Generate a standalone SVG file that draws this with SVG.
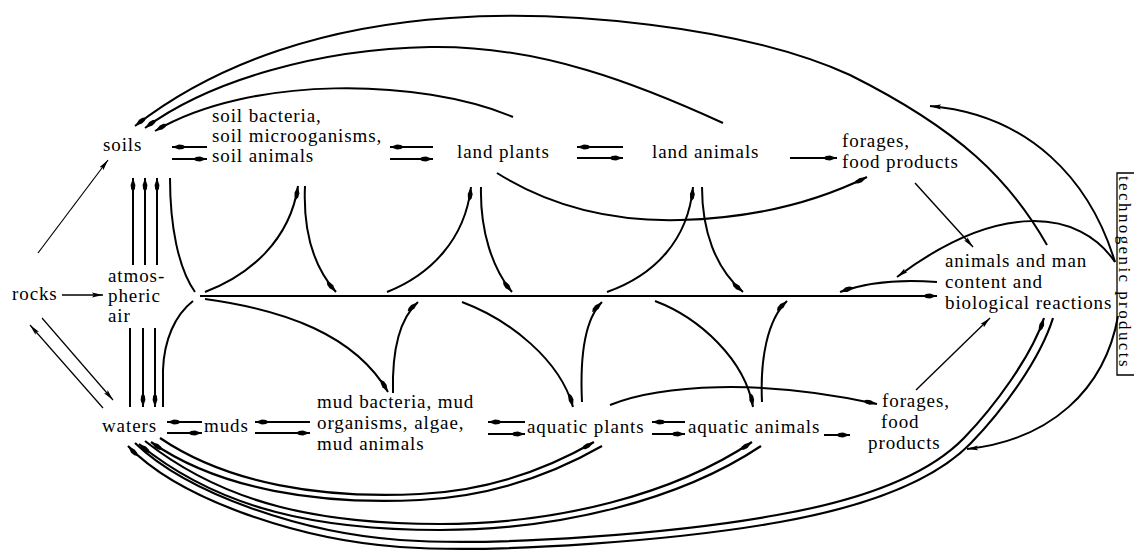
<svg xmlns="http://www.w3.org/2000/svg" width="1134" height="557" viewBox="0 0 1134 557">
<defs>
<style>
text{font-family:'Liberation Serif','Times New Roman',serif;font-size:19px;letter-spacing:0.9px;fill:#000}
.c{fill:none;stroke:#000;stroke-width:2}
.d{fill:none;stroke:#000;stroke-width:2.2}
.t{fill:none;stroke:#000;stroke-width:1.2}
</style>
<marker id="arr" viewBox="0 0 14 6" refX="14" refY="3" markerWidth="14" markerHeight="6" orient="auto" markerUnits="userSpaceOnUse">
<path d="M0 3 L3 1.1 L7 0.6 L14 3 L7 5.4 L3 4.9 Z" fill="#000" stroke="none"/>
</marker>
<marker id="sm" viewBox="0 0 11 6" refX="11" refY="3" markerWidth="11" markerHeight="6" orient="auto" markerUnits="userSpaceOnUse">
<path d="M0 0.6 L11 3 L0 5.4 L2 3 Z" fill="#000" stroke="none"/>
</marker>
</defs>
<rect width="1134" height="557" fill="#fff"/>

<g id="connectors">
<path class="t" d="M38 253 L108 160" marker-end="url(#sm)"/>
<path class="t" d="M62 295 L103 295" marker-end="url(#sm)" style="stroke-width:1.5"/>
<path class="t" d="M103 408 L30 325" marker-end="url(#sm)"/>
<path class="t" d="M42 318 L113 400" marker-end="url(#sm)"/>
<path class="c" d="M133 265 V178" marker-end="url(#arr)"/>
<path class="c" d="M145 265 V178" marker-end="url(#arr)"/>
<path class="c" d="M157 265 V178" marker-end="url(#arr)"/>
<path class="c" d="M170 178 C170 225 178 268 195 292"/>
<path class="c" d="M130 328 V407"/>
<path class="c" d="M143 328 V407" marker-end="url(#arr)"/>
<path class="c" d="M155 328 V407" marker-end="url(#arr)"/>
<path class="c" d="M193 301 C175 315 164 340 163 370 L163 407"/>
<path class="c" d="M200 296 H937" marker-end="url(#arr)"/>
<path class="c" d="M205 292 C250 275 290 240 298 186" marker-end="url(#arr)"/>
<path class="c" d="M305 186 C303 230 312 265 336 292" marker-end="url(#arr)"/>
<path class="c" d="M387 292 C430 275 465 240 471 187" marker-end="url(#arr)"/>
<path class="c" d="M481 187 C480 230 492 268 512 292" marker-end="url(#arr)"/>
<path class="c" d="M607 292 C655 275 688 240 693 187" marker-end="url(#arr)"/>
<path class="c" d="M702 187 C702 230 715 268 743 292" marker-end="url(#arr)"/>
<path class="c" d="M205 299 C285 310 355 335 388 392" marker-end="url(#arr)"/>
<path class="c" d="M393 393 C392 355 398 320 418 302" marker-end="url(#arr)"/>
<path class="c" d="M462 302 C510 320 560 360 573 407" marker-end="url(#arr)"/>
<path class="c" d="M582 402 C580 360 584 320 602 302" marker-end="url(#arr)"/>
<path class="c" d="M655 301 C700 318 745 360 753 407" marker-end="url(#arr)"/>
<path class="c" d="M762 402 C760 360 767 320 787 301" marker-end="url(#arr)"/>
<path class="c" d="M1047 245 C1010 180 960 130 850 75 C740 25 560 10 450 18 C330 26 220 60 135 126" marker-end="url(#arr)"/>
<path class="c" d="M723 123 C640 85 540 45 430 47 C320 49 210 80 145 128" marker-end="url(#arr)"/>
<path class="c" d="M513 117 C420 78 250 75 155 131" marker-end="url(#arr)"/>
<path class="c" d="M1115 262 C1090 180 1030 115 930 106" marker-end="url(#sm)"/>
<path class="c" d="M1115 262 C1080 210 1000 200 897 277" marker-end="url(#sm)"/>
<path class="c" d="M1118 316 C1105 390 1050 440 967 449" marker-end="url(#sm)"/>
<path class="c" d="M937 282 C900 279 865 283 840 292" marker-end="url(#arr)"/>
<path class="c" d="M497 173 C540 200 600 222 680 220 C760 218 820 200 867 177" marker-end="url(#arr)"/>
<path class="c" d="M610 405 C660 385 760 378 877 404" marker-end="url(#arr)"/>
<path class="t" d="M915 183 L973 247" marker-end="url(#sm)" style="stroke-width:1.4"/>
<path class="t" d="M916 390 L990 318" marker-end="url(#sm)" style="stroke-width:1.4"/>
<path class="c" d="M207 147 H172" marker-end="url(#arr)"/>
<path class="c" d="M172 159 H207" marker-end="url(#arr)"/>
<path class="c" d="M433 147 H390" marker-end="url(#arr)"/>
<path class="c" d="M390 159 H433" marker-end="url(#arr)"/>
<path class="c" d="M623 147 H577" marker-end="url(#arr)"/>
<path class="c" d="M577 158 H623" marker-end="url(#arr)"/>
<path class="c" d="M790 158 H837" marker-end="url(#arr)"/>
<path class="c" d="M202 422 H167" marker-end="url(#arr)"/>
<path class="c" d="M167 433 H202" marker-end="url(#arr)"/>
<path class="c" d="M310 422 H255" marker-end="url(#arr)"/>
<path class="c" d="M255 433 H310" marker-end="url(#arr)"/>
<path class="c" d="M525 422 H488" marker-end="url(#arr)"/>
<path class="c" d="M488 434 H525" marker-end="url(#arr)"/>
<path class="c" d="M685 422 H652" marker-end="url(#arr)"/>
<path class="c" d="M652 434 H685" marker-end="url(#arr)"/>
<path class="c" d="M824 435 H850" marker-end="url(#arr)"/>
<path class="d" d="M602 446 C560 470 500 496 420 500 C320 505 220 490 151 442" marker-end="url(#arr)"/>
<path class="d" d="M160 438 C228 484 322 499 420 494 C498 490 556 464 594 442" marker-end="url(#arr)"/>
<path class="d" d="M761 446 C680 500 560 530 440 530 C320 530 220 510 139 444" marker-end="url(#arr)"/>
<path class="d" d="M145 441 C226 505 322 524 440 524 C558 524 674 494 752 442" marker-end="url(#arr)"/>
<path class="d" d="M1053 318 C1040 360 1002 411 971 443 C940 475 880 504 780 522 C680 540 500 554 400 547 C300 540 180 500 128 446" marker-end="url(#arr)"/>
<path class="d" d="M135 443 C188 494 302 533 400 540 C500 547 678 533 777 515 C874 498 933 470 964 438 C994 407 1031 357 1044 318" marker-end="url(#arr)"/>
</g>

<g id="rocks" font-family="'Liberation Serif', serif"><text x="12" y="300">rocks</text></g>
<g id="soils" font-family="'Liberation Serif', serif"><text x="103" y="151">soils</text></g>
<g id="soil-bacteria" font-family="'Liberation Serif', serif"><text x="212" y="122">soil bacteria,</text><text x="212" y="142">soil microoganisms,</text><text x="212" y="162">soil animals</text></g>
<g id="land-plants" font-family="'Liberation Serif', serif"><text x="457" y="158">land plants</text></g>
<g id="land-animals" font-family="'Liberation Serif', serif"><text x="652" y="158">land animals</text></g>
<g id="forages-top" font-family="'Liberation Serif', serif"><text x="842" y="147">forages,</text><text x="842" y="168">food products</text></g>
<g id="atmospheric-air" font-family="'Liberation Serif', serif"><text x="108" y="282">atmos-</text><text x="108" y="302">pheric</text><text x="108" y="322">air</text></g>
<g id="animals-man" font-family="'Liberation Serif', serif"><text x="945" y="267">animals and man</text><text x="945" y="288">content and</text><text x="945" y="309">biological reactions</text></g>
<g id="waters" font-family="'Liberation Serif', serif"><text x="102" y="432">waters</text></g>
<g id="muds" font-family="'Liberation Serif', serif"><text x="204" y="432">muds</text></g>
<g id="mud-bacteria" font-family="'Liberation Serif', serif"><text x="317" y="408">mud bacteria, mud</text><text x="317" y="429">organisms, algae,</text><text x="317" y="450">mud animals</text></g>
<g id="aquatic-plants" font-family="'Liberation Serif', serif"><text x="527" y="433">aquatic plants</text></g>
<g id="aquatic-animals" font-family="'Liberation Serif', serif"><text x="688" y="433">aquatic animals</text></g>
<g id="forages-bottom" font-family="'Liberation Serif', serif"><text x="882" y="407">forages,</text><text x="881" y="428">food</text><text x="868" y="449">products</text></g>
<g id="technogenic-products" font-family="'Liberation Serif', serif">
<path d="M1136 173 H1117 V375 H1136" fill="none" stroke="#000" stroke-width="1.3"/>
<text transform="translate(1119,176) rotate(90)" style="font-size:17px;letter-spacing:2.4px">technogenic products</text>
</g>
</svg>
